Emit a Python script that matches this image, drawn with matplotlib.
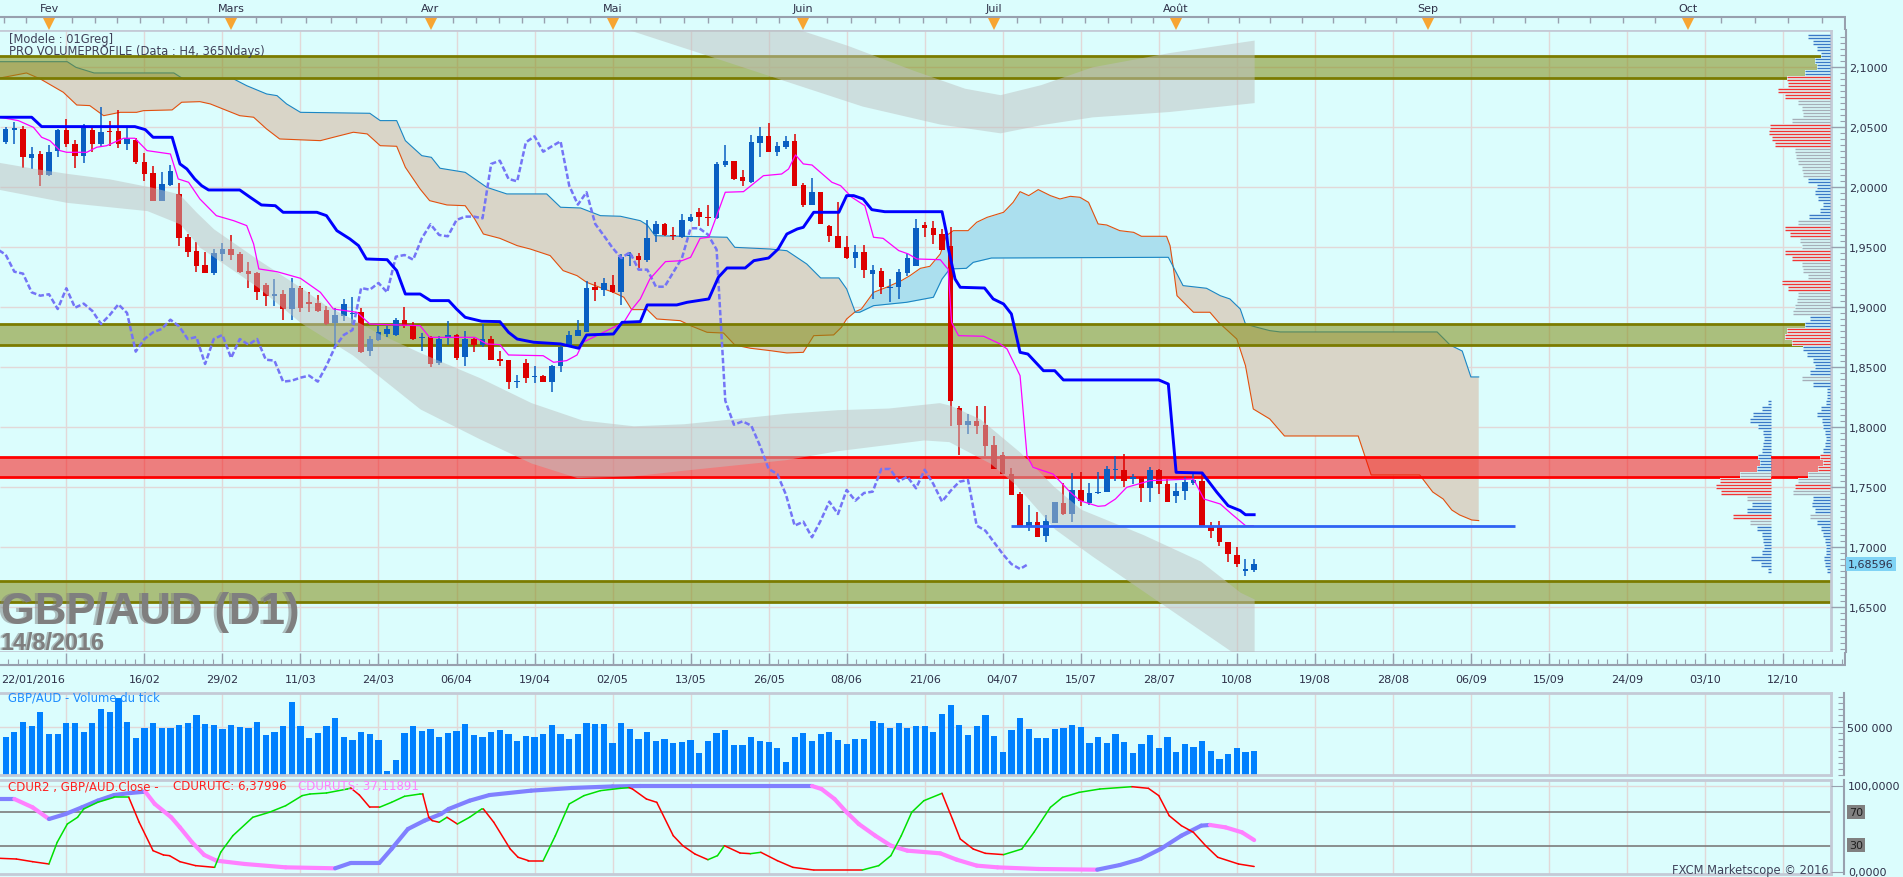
import numpy as np
import matplotlib
matplotlib.use('Agg')
import matplotlib.pyplot as plt
from matplotlib.collections import LineCollection
from matplotlib.patches import Rectangle
from matplotlib.ticker import FixedLocator, FuncFormatter, NullFormatter

W, H = 1903, 878
BG = '#dbfdfd'
GRID = '#e2d8d8'
BORDER = '#c4cad6'
AXC = '#98a0ae'
TXT = '#2e3048'
STEP = 8.67          # pixels per daily bar
UP, DOWN = '#0a5fc2', '#dd0000'

# ---------------- GBP/AUD daily candles, bar 0 = 22/01/2016 ... bar 145 = 12/08/2016
opens = [2.0311,2.0378,2.0478,2.0483,2.0244,2.0275,2.0100,2.0303,2.0475,2.0358,
         2.0261,2.0475,2.0358,2.0469,2.0469,2.0358,2.0394,2.0211,2.0117,1.9886,
         2.0017,1.9942,1.9581,1.9467,1.9350,1.9283,1.9442,1.9483,1.9442,1.9300,
         1.9283,1.9183,1.9094,1.9108,1.8983,1.9161,1.9044,1.9033,1.8975,1.8867,
         1.8922,1.8939,1.8956,1.8636,1.8728,1.8775,1.8769,1.8894,1.8844,1.8739,
         1.8747,1.8533,1.8739,1.8767,1.8581,1.8733,1.8686,1.8733,1.8567,1.8558,
         1.8378,1.8531,1.8417,1.8422,1.8378,1.8506,1.8678,1.8761,1.8794,1.9164,
         1.9144,1.9186,1.9128,1.9422,1.9422,1.9392,1.9608,1.9689,1.9603,1.9581,
         1.9719,1.9789,1.9753,1.9739,2.0186,2.0214,2.0081,2.0039,2.0367,2.0422,
         2.0294,2.0336,2.0381,2.0017,1.9853,1.9956,1.9678,1.9589,1.9497,1.9408,
         1.9456,1.9275,1.9297,1.9158,1.9164,1.9283,1.9344,1.9683,1.9656,1.9608,
         1.9511,1.8156,1.8019,1.8047,1.8017,1.7850,1.7767,1.7608,1.7442,1.7178,
         1.7211,1.7089,1.7197,1.7367,1.7275,1.7475,1.7364,1.7450,1.7456,1.7642,
         1.7642,1.7567,1.7581,1.7489,1.7644,1.7525,1.7422,1.7464,1.7531,1.7553,
         1.7164,1.7164,1.7039,1.6933,1.6797,1.6811]
highs = [2.0372,2.0503,2.0539,2.0511,2.0331,2.0303,2.0350,2.0483,2.0567,2.0392,
         2.0522,2.0489,2.0667,2.0553,2.0644,2.0497,2.0406,2.0283,2.0172,2.0122,
         2.0183,2.0033,1.9608,1.9539,1.9456,1.9483,1.9533,1.9603,1.9461,1.9378,
         1.9294,1.9200,1.9233,1.9144,1.9244,1.9178,1.9122,1.9100,1.9011,1.8989,
         1.9067,1.9083,1.8989,1.8761,1.8844,1.8844,1.8911,1.8997,1.8872,1.8783,
         1.8761,1.8761,1.8881,1.8775,1.8797,1.8744,1.8858,1.8756,1.8631,1.8561,
         1.8433,1.8567,1.8506,1.8433,1.8517,1.8678,1.8803,1.8894,1.9219,1.9206,
         1.9239,1.9267,1.9442,1.9456,1.9450,1.9725,1.9719,1.9700,1.9664,1.9775,
         1.9775,1.9822,1.9850,2.0206,2.0350,2.0219,2.0144,2.0433,2.0497,2.0533,
         2.0372,2.0428,2.0442,2.0033,2.0072,1.9961,1.9680,1.9872,1.9594,1.9517,
         1.9517,1.9350,1.9322,1.9233,1.9317,1.9442,1.9733,1.9711,1.9719,1.9650,
         1.9664,1.8178,1.8108,1.8178,1.8172,1.7922,1.7789,1.7656,1.7456,1.7350,
         1.7294,1.7267,1.7378,1.7533,1.7617,1.7622,1.7533,1.7622,1.7672,1.7756,
         1.7775,1.7608,1.7581,1.7664,1.7650,1.7567,1.7533,1.7581,1.7608,1.7608,
         1.7211,1.7219,1.7044,1.6997,1.6900,1.6900]
lows = [2.0303,2.0358,2.0358,2.0156,2.0150,2.0006,2.0094,2.0247,2.0331,2.0156,
        2.0197,2.0294,2.0344,2.0344,2.0325,2.0311,2.0192,2.0053,1.9880,1.9880,
        2.0011,1.9511,1.9414,1.9294,1.9280,1.9267,1.9386,1.9392,1.9283,1.9161,
        1.9061,1.9011,1.9011,1.8894,1.8894,1.8956,1.8956,1.8956,1.8850,1.8678,
        1.8886,1.8858,1.8617,1.8594,1.8719,1.8747,1.8761,1.8822,1.8728,1.8636,
        1.8497,1.8517,1.8686,1.8561,1.8511,1.8622,1.8669,1.8558,1.8506,1.8317,
        1.8322,1.8367,1.8367,1.8372,1.8294,1.8456,1.8675,1.8756,1.8792,1.9053,
        1.9094,1.9120,1.9019,1.9339,1.9322,1.9378,1.9539,1.9589,1.9561,1.9578,
        1.9711,1.9678,1.9678,1.9733,2.0164,2.0058,2.0011,2.0033,2.0253,2.0292,
        2.0261,2.0317,2.0008,1.9836,1.9850,1.9690,1.9544,1.9490,1.9400,1.9322,
        1.9242,1.9067,1.9108,1.9044,1.9067,1.9261,1.9339,1.9581,1.9525,1.9472,
        1.8011,1.7767,1.7942,1.7942,1.7761,1.7650,1.7608,1.7436,1.7172,1.7136,
        1.7081,1.7044,1.7197,1.7267,1.7206,1.7344,1.7350,1.7442,1.7456,1.7553,
        1.7497,1.7525,1.7372,1.7372,1.7442,1.7378,1.7367,1.7394,1.7517,1.7178,
        1.7072,1.7006,1.6878,1.6831,1.6756,1.6789]
closes = [2.0358,2.0483,2.0489,2.0253,2.0275,2.0100,2.0289,2.0478,2.0358,2.0261,
          2.0489,2.0358,2.0461,2.0456,2.0358,2.0406,2.0211,2.0108,1.9886,2.0025,
          2.0136,1.9575,1.9461,1.9344,1.9283,1.9450,1.9483,1.9436,1.9294,1.9278,
          1.9122,1.9094,1.9106,1.8983,1.9156,1.8994,1.9028,1.8967,1.8858,1.8933,
          1.9022,1.8950,1.8628,1.8733,1.8789,1.8817,1.8894,1.8839,1.8733,1.8750,
          1.8525,1.8733,1.8767,1.8575,1.8733,1.8686,1.8733,1.8561,1.8553,1.8378,
          1.8386,1.8411,1.8428,1.8378,1.8511,1.8669,1.8767,1.8808,1.9158,1.9144,
          1.9200,1.9122,1.9419,1.9433,1.9394,1.9572,1.9689,1.9600,1.9589,1.9725,
          1.9753,1.9753,1.9739,2.0192,2.0219,2.0067,2.0047,2.0372,2.0422,2.0294,
          2.0339,2.0381,2.0011,1.9853,1.9956,1.9692,1.9594,1.9492,1.9408,1.9456,
          1.9311,1.9311,1.9169,1.9169,1.9289,1.9408,1.9656,1.9656,1.9603,1.9478,
          1.8219,1.8019,1.8047,1.8011,1.7844,1.7650,1.7608,1.7436,1.7178,1.7211,
          1.7081,1.7219,1.7378,1.7275,1.7475,1.7386,1.7450,1.7461,1.7650,1.7650,
          1.7547,1.7586,1.7489,1.7644,1.7525,1.7378,1.7469,1.7544,1.7558,1.7178,
          1.7136,1.7039,1.6942,1.6858,1.6817,1.6860]
# tick volume, thousands
volume_k = [479,399,451,552,510,656,427,427,542,542,
            448,542,687,656,802,552,385,490,542,490,
            490,521,542,625,531,521,479,521,500,490,
            552,417,448,510,760,510,385,437,510,594,
            396,365,451,427,365,42,156,437,510,458,
            479,396,437,458,531,417,396,448,469,427,
            354,406,396,427,521,427,375,427,542,531,
            531,333,542,479,375,448,354,375,333,344,
            365,229,354,437,469,312,312,396,354,344,
            281,135,396,437,354,427,448,365,323,375,
            375,562,542,490,542,490,510,510,448,635,
            729,521,417,510,625,406,240,469,594,479,
            385,385,479,490,521,500,333,396,333,427,
            344,229,323,417,281,396,240,323,292,354,
            250,167,219,281,240,250]

# ---------------- Ichimoku lines (bar index, price)
kijun_x = [0.35,4.0,5.15,15.9,17.1,18.0,20.2,21.1,21.9,22.8,23.6,24.4,28.0,29.2,30.5,32.1,33.0,36.9,38.0,39.2,
           40.7,41.7,42.6,45.0,46.1,47.1,48.8,50.0,52.1,53.0,54.0,55.9,58.0,59.0,60.0,61.9,65.0,67.1,67.3,68.0,
           71.1,72.1,74.2,75.0,78.4,79.6,82.1,83.2,84.2,86.3,87.3,89.0,90.1,91.1,92.3,93.0,94.2,97.1,98.0,98.8,
           99.9,100.9,102.4,109.0,109.5,109.7,110.5,111.1,113.9,114.9,116.1,117.0,118.0,118.9,120.7,122.0,123.0,
           134.0,135.1,136.0,139.0,140.7,142.0,143.4,144.0,145.0]
kijun_y = [2.0581,2.0581,2.0503,2.0503,2.0478,2.0414,2.0414,2.0192,2.0150,2.0067,2.0011,1.9975,1.9975,1.9914,
           1.9850,1.9844,1.9789,1.9789,1.9761,1.9636,1.9567,1.9511,1.9400,1.9394,1.9303,1.9108,1.9108,1.9053,
           1.9053,1.8983,1.8914,1.8881,1.8878,1.8789,1.8733,1.8706,1.8692,1.8656,1.8678,1.8767,1.8775,1.8872,
           1.8878,1.9017,1.9017,1.9039,1.9067,1.9247,1.9325,1.9325,1.9386,1.9408,1.9483,1.9608,1.9650,1.9664,
           1.9789,1.9789,1.9928,1.9928,1.9900,1.9811,1.9794,1.9794,1.9622,1.9497,1.9233,1.9164,1.9158,1.9067,
           1.9025,1.8942,1.8622,1.8608,1.8469,1.8469,1.8392,1.8392,1.8358,1.7622,1.7617,1.7456,1.7344,1.7303,
           1.7269,1.7269]
tenkan_x = [0.35,2.46,4.2,5.15,6.1,7.27,8.04,10.35,11.5,12.65,14.6,15.9,17.3,20.0,20.9,22.1,23.4,25.3,27.3,28.8,
            29.6,30.2,32.3,35.0,37.3,38.8,41.5,43.0,48.8,49.9,55.1,56.5,58.0,59.0,63.0,64.2,65.7,66.9,67.6,72.3,
            73.2,74.2,75.3,77.1,79.0,80.0,81.1,82.1,84.0,86.1,88.4,90.5,91.3,92.1,93.0,94.0,96.3,97.3,98.6,100.1,
            101.1,102.2,104.0,105.1,106.1,108.8,109.5,109.7,110.1,110.9,113.8,115.7,116.5,118.0,118.8,119.5,121.8,
            123.8,124.9,127.0,127.8,129.0,130.3,133.0,138.0,139.2,141.1,142.4,144.0,144.9]
tenkan_y = [2.0581,2.0553,2.0497,2.0414,2.0386,2.0303,2.0289,2.0289,2.0331,2.0344,2.0406,2.0406,2.0303,2.0275,
            2.0067,2.0039,1.9900,1.9761,1.9719,1.9678,1.9525,1.9317,1.9294,1.9239,1.9122,1.8983,1.8956,1.8858,
            1.8844,1.8747,1.8747,1.8692,1.8686,1.8600,1.8594,1.8539,1.8553,1.8600,1.8706,1.8872,1.8978,1.9067,
            1.9233,1.9378,1.9386,1.9414,1.9572,1.9581,1.9956,1.9961,2.0094,2.0108,2.0150,2.0267,2.0192,2.0183,
            2.0039,2.0011,1.9914,1.9844,1.9581,1.9572,1.9470,1.9442,1.9400,1.9394,1.9331,1.9317,1.8872,1.8761,
            1.8756,1.8692,1.8650,1.8428,1.7761,1.7664,1.7608,1.7456,1.7386,1.7339,1.7344,1.7400,1.7497,1.7553,
            1.7567,1.7400,1.7358,1.7275,1.7178,1.7178]
span_b_x = [0.35,8.1,9.1,11.2,20.4,21.5,27.3,28.8,31.1,32.3,33.4,35.0,43.0,44.2,46.1,47.1,49.0,50.1,51.1,54.0,
            56.5,58.8,63.4,65.0,67.3,69.6,71.9,74.2,75.0,75.9,84.2,85.1,89.2,91.1,93.4,95.0,97.1,98.0,99.0,99.5,
            101.1,104.9,108.0,109.0,109.9,111.8,112.6,114.7,135.1,135.7,136.8,139.5,141.1,142.2,143.4,144.0,
            145.3,146.8,148.0,166.1,167.6,169.0,170.0,170.9]
span_b_y = [2.1044,2.1044,2.0997,2.0950,2.0950,2.0900,2.0900,2.0844,2.0775,2.0761,2.0692,2.0622,2.0614,2.0553,
            2.0553,2.0386,2.0261,2.0247,2.0156,2.0122,1.9997,1.9942,1.9942,1.9831,1.9825,1.9761,1.9756,1.9719,
            1.9683,1.9594,1.9581,1.9497,1.9483,1.9469,1.9358,1.9242,1.9242,1.9150,1.8956,1.8956,1.9011,1.9039,
            1.9081,1.9233,1.9317,1.9322,1.9372,1.9408,1.9414,1.9331,1.9178,1.9156,1.9094,1.9067,1.8983,1.8858,
            1.8831,1.8803,1.8792,1.8792,1.8683,1.8633,1.8417,1.8417]
span_a_x = [0.35,3.4,5.0,7.65,9.2,10.7,12.3,14.2,16.1,16.9,20.2,21.3,23.4,24.6,28.0,29.6,31.1,32.6,37.3,38.8,
            41.1,42.7,44.2,46.1,47.1,48.8,49.9,51.9,54.0,55.1,56.1,58.0,60.0,61.5,63.8,64.4,65.3,66.9,68.0,70.0,
            71.1,72.3,73.2,75.0,76.1,78.8,80.0,81.9,83.8,85.1,86.9,89.2,91.1,93.0,94.2,96.5,97.4,98.0,99.0,99.7,
            101.1,102.6,104.3,105.3,106.5,107.6,108.8,109.5,110.3,112.0,113.0,114.2,116.1,117.2,118.0,119.0,
            120.1,121.5,122.6,123.8,124.9,125.9,127.0,128.0,129.5,131.1,132.0,134.9,135.3,135.7,136.1,138.0,
            139.9,140.9,143.0,144.0,144.9,146.8,148.5,157.0,158.5,164.1,165.6,166.8,167.8,168.7,170.1,170.9]
span_a_y = [2.0908,2.0950,2.0900,2.0789,2.0683,2.0678,2.0594,2.0622,2.0622,2.0636,2.0642,2.0706,2.0711,2.0692,
            2.0594,2.0581,2.0483,2.0400,2.0386,2.0414,2.0456,2.0442,2.0344,2.0339,2.0164,1.9983,1.9886,1.9850,
            1.9844,1.9733,1.9608,1.9572,1.9511,1.9483,1.9428,1.9378,1.9303,1.9261,1.9206,1.9150,1.9122,1.9081,
            1.8978,1.8978,1.8900,1.8886,1.8844,1.8789,1.8783,1.8683,1.8656,1.8636,1.8617,1.8622,1.8761,1.8767,
            1.8831,1.8900,1.8961,1.8983,1.9122,1.9164,1.9219,1.9261,1.9322,1.9339,1.9442,1.9594,1.9636,1.9636,
            1.9706,1.9747,1.9789,1.9872,1.9961,1.9928,1.9978,1.9928,1.9900,1.9922,1.9914,1.9872,1.9692,1.9683,
            1.9636,1.9622,1.9589,1.9589,1.9511,1.9317,1.9094,1.8956,1.8956,1.8872,1.8733,1.8511,1.8150,1.8067,
            1.7925,1.7925,1.7600,1.7600,1.7458,1.7400,1.7308,1.7267,1.7225,1.7220]

# ---------------- regression channel bands (grey)
low_top_x = [0,4.7,8,13,17.9,21,23,25,30,35,38,41,44,48.8,55.7,61.6,67.5,73.4,79.2,85.1,91,96.9,102.8,108.7,
             110,113.4,118,121.8,125,132.2,138.8,143.4,145]
low_top_y = [2.0208,2.0150,2.0114,2.0067,1.9997,1.9942,1.9789,1.9650,1.9400,1.9164,1.9011,1.8900,1.8780,1.8620,
             1.8410,1.8203,1.8058,1.8010,1.8027,1.8070,1.8114,1.8144,1.8158,1.8203,1.8180,1.8067,1.7789,1.7511,
             1.7315,1.7103,1.6883,1.6622,1.6567]
low_bot_x = [0,8,17.3,21.1,23.4,30.1,35,41,48.8,55.7,61.6,66.9,73.4,79.2,91,96.9,106.9,109.8,114.5,117.5,122,
             126.3,145]
low_bot_y = [1.9983,1.9872,1.9803,1.9692,1.9497,1.9164,1.8870,1.8600,1.8150,1.7900,1.7700,1.7578,1.7593,1.7640,
             1.7728,1.7802,1.7892,1.7878,1.7700,1.7519,1.7150,1.6925,1.6000]
up_top_x = [60,73.1,92.8,98.1,105.7,111.6,115.7,120.4,126.3,135.2,145]
up_top_y = [2.2000,2.1700,2.1305,2.1180,2.0972,2.0823,2.0769,2.0853,2.1001,2.1120,2.1224]
up_bot_x = [60,73.1,82.2,91.0,99.8,108.7,115.7,120.4,126.3,135.2,145]
up_bot_y = [2.1650,2.1305,2.1091,2.0882,2.0674,2.0525,2.0451,2.0519,2.0584,2.0629,2.0703]

# ---------------- horizontal zones
green_zones = [(2.0908, 2.1092), (1.8683, 1.8858), (1.6542, 1.6717)]
red_zone = (1.7583, 1.7750)
support_level = 1.7171

# ---------------- volume profile (row length in px), rows every 0.005
vp_main_len = [22,17,13,9,15,13,25, 43,42,52,45, 32,28,27,38, 60,61,58,55, 35,34,32,28,27,
               22,13,15,12,7,10,21, 32,45,40,30,28,45,38,28,27,22,48,42, 32,33,35,37, 20,25,
               43,45,38, 27,23,17,15,20, 28,17, 3,3,4,9,13,8,7,5,4,5,7, 10,7,12, 22,32,35,37,
               17,18,15,20, 13,9,7,5,4, 4,6,5,3]
vp_main_col = ("bbbbbbb" "rrrr" "gggg" "rrrr" "ggggg" "bbbbbbb" "grrggrrgggrr" "gggg" "bb" "rrr"
               "bbbbb" "gb" "bbbbbbbbbbb" "rrr" "ggrg" "bbbg" "bbbbb" "bbbb")
vp_sec_len = [3,9,18,21,13,8,7,8,9,13,11,14,31,51,55,50,24,19,24,38,21,14,9,8,7,9,20,10,3]
vp_sec_col = "bbbbbbbbbbbb" "g" "rrr" "g" "bb" "r" "g" "bbbbbbbb"

# ---------------- CDUR2 oscillator
uts_x = [0.35,2.0,4.1,6.0,7.9,9.8,11.6,13.5,15.4,17.1,18.2,20.1,21.1,22.5,23.9,25.3,28.6,33.3,39.0,40.8,44.1,
         45.5,47.4,49.3,51.2,52.1,54.5,56.8,61.6,66.3,71.0,74.2,94.0,95.1,96.6,98.0,99.4,101.3,103.1,105.0,
         108.8,110.7,113.0,115.4,120.1,126.9,129.5,131.9,134.2,136.6,138.9,139.9,141.7,143.6,145.0]
uts_y = [84.9,84.9,75.2,61.6,67.4,75.2,82.9,89.5,91.9,93.4,79.1,63.6,51.9,34.5,19.8,13.2,9.3,5.4,4.3,10.5,10.5,
         26.7,50.0,59.7,67.4,73.3,82.9,89.5,94.6,97.7,99.5,100.0,100.0,96.5,84.9,69.4,55.8,42.2,30.6,24.8,
         21.7,14.3,7.4,5.4,3.5,2.7,8.1,15.1,26.7,42.2,53.9,54.7,51.9,46.1,37.1]
utc_x = [0.35,2.23,4.11,5.99,6.94,8.11,9.29,10.0,11.6,13.5,15.2,16.4,18.0,19.2,19.9,21.1,22.9,25.1,25.8,27.2,
         29.5,31.4,33.3,35.2,36.1,38.0,40.4,40.8,41.8,43.0,44.1,45.5,47.0,48.8,49.1,49.8,50.2,51.0,51.9,53.1,
         54.5,55.9,56.1,57.3,59.2,60.1,61.3,63.0,64.4,66.0,67.7,69.6,71.9,72.9,73.3,74.9,76.1,78.0,79.1,80.5,
         82.0,83.1,83.9,85.7,86.9,88.1,90.0,91.8,94.2,99.8,101.7,103.1,104.3,105.5,106.9,109.0,110.2,111.1,
         112.6,114.0,116.1,118.2,119.6,121.5,122.9,124.8,127.2,130.9,132.8,134.0,135.2,136.6,138.0,139.4,
         140.8,143.2,145.0]
utc_y = [15.9,15.1,12.0,9.3,34.5,55.8,63.6,73.3,81.0,86.8,86.8,57.8,24.8,19.8,19.0,12.0,7.4,5.4,22.9,42.2,
         63.6,69.4,77.1,88.8,90.7,91.9,96.5,97.7,89.5,75.2,75.2,81.0,88.0,90.7,90.7,63.6,59.7,57.8,63.6,55.8,
         63.6,73.3,73.3,57.8,26.7,17.1,13.2,13.2,42.2,79.1,88.8,94.6,97.3,98.1,96.5,84.9,81.0,42.2,30.6,20.9,
         14.3,19.0,30.6,22.1,21.3,22.9,13.2,5.4,2.3,2.3,7.4,19.0,42.2,69.4,82.9,91.5,61.6,38.4,
         26.7,21.7,20.2,26.7,46.1,75.2,86.8,92.6,96.5,99.2,97.3,88.8,65.5,53.9,46.1,30.6,
         17.1,9.3,6.4]

# ---------------- axis labels
month_names = ['Fev', 'Mars', 'Avr', 'Mai', 'Juin', 'Juil', 'Août', 'Sep', 'Oct']
month_bars = [6, 27, 50, 71, 93, 115, 136, 165, 195]
date_labels = ['16/02', '29/02', '11/03', '24/03', '06/04', '19/04', '02/05', '13/05', '26/05', '08/06',
               '21/06', '04/07', '15/07', '28/07', '10/08', '19/08', '28/08', '06/09', '15/09', '24/09',
               '03/10', '12/10']
date_bars = list(range(17, 207, 9))


def px2i(p):
    return (p + 3) / STEP


fig = plt.figure(figsize=(W / 100, H / 100), dpi=100, facecolor=BG)


def px_axes(x0, y0, x1, y1):
    a = fig.add_axes([x0 / W, 1 - y1 / H, (x1 - x0) / W, (y1 - y0) / H])
    a.set_facecolor(BG)
    a.set_xticks([])
    a.set_yticks([])
    for s in a.spines.values():
        s.set_visible(False)
    return a


def ftext(x, y, s, **kw):
    return fig.text(x / W, 1 - y / H, s, **kw)


def frame(a, sides=('top', 'bottom', 'right')):
    for s in sides:
        a.spines[s].set_visible(True)
        a.spines[s].set_color(BORDER)
        a.spines[s].set_linewidth(2)


def colored_line(a, xs, ys, up_c, dn_c, lw, z):
    xs = np.asarray(xs, float)
    ys = np.asarray(ys, float)
    pts = np.column_stack([xs, ys])
    segs = np.stack([pts[:-1], pts[1:]], axis=1)
    cols, last = [], up_c
    for d in np.diff(ys):
        if d > 0:
            last = up_c
        elif d < 0:
            last = dn_c
        cols.append(last)
    a.add_collection(LineCollection(segs, colors=cols, linewidths=lw, zorder=z, capstyle='round'))


grid_bars = np.arange(8, 213, 9)
XL, XR = px2i(0), px2i(1831)

# ================= main price panel
ax = px_axes(0, 31, 1831, 653)
ax.set_xlim(XL, XR)
ax.set_ylim(1.6125, 2.1308)
frame(ax)
ax.vlines(grid_bars, 1.6, 2.2, color=GRID, lw=1, zorder=0.5)
ax.hlines(np.arange(1.65, 2.101, 0.05), XL, XR, color=GRID, lw=1, zorder=0.5)

# cloud
xs = np.linspace(span_a_x[0], span_a_x[-1], 4000)
sa = np.interp(xs, span_a_x, span_a_y)
sb = np.interp(xs, span_b_x, span_b_y)
ax.fill_between(xs, sa, sb, where=sa >= sb, interpolate=True, color='#abdfee', lw=0, zorder=1)
ax.fill_between(xs, sa, sb, where=sa < sb, interpolate=True, color='#d9d5c8', lw=0, zorder=1)
ax.plot(span_a_x, span_a_y, color='#e2500e', lw=0.8, zorder=1.5)
ax.plot(span_b_x, span_b_y, color='#1a86c4', lw=0.8, zorder=1.5)

# zones
for lo, hi in green_zones:
    ax.axhspan(lo, hi, color=(0.51, 0.55, 0.08), alpha=0.55, lw=0, zorder=2)
    ax.axhline(lo, color='#7b7b00', lw=2, zorder=2.1)
    ax.axhline(hi, color='#7b7b00', lw=2, zorder=2.1)
ax.axhspan(red_zone[0], red_zone[1], color='#ff0000', alpha=0.5, lw=0, zorder=2)
ax.axhline(red_zone[0], color='#ff0000', lw=2, zorder=2.1)
ax.axhline(red_zone[1], color='#ff0000', lw=2, zorder=2.1)

# candles
o, h, l, c = (np.array(v) for v in (opens, highs, lows, closes))
idx = np.arange(len(o))
col = np.where(c >= o, UP, DOWN)
ax.vlines(idx, l, h, colors=col, lw=1.1, zorder=3)
ax.bar(idx, np.maximum(np.abs(c - o), 0.0009), width=0.64, bottom=np.minimum(o, c),
       color=col, lw=0, zorder=3.1)

# grey channel bands
xl = np.linspace(0, 145, 1500)
ax.fill_between(xl, np.interp(xl, low_top_x, low_top_y), np.interp(xl, low_bot_x, low_bot_y),
                color='#bec0c0', alpha=0.5, lw=0, zorder=3.5)
xu = np.linspace(60, 145, 900)
ax.fill_between(xu, np.interp(xu, up_top_x, up_top_y), np.interp(xu, up_bot_x, up_bot_y),
                color='#bec0c0', alpha=0.5, lw=0, zorder=3.5)

# ichimoku lines
ax.plot(idx[:-26], c[26:], color='#7474f6', lw=1.8, ls=(0, (2.2, 1)), zorder=4)
ax.plot(tenkan_x, tenkan_y, color='#ff00ff', lw=0.9, zorder=4.1)
ax.plot(kijun_x, kijun_y, color='#0000ff', lw=2.1, zorder=4.2)
ax.hlines(support_level, px2i(1011), px2i(1515), color='#2f63f3', lw=2, zorder=4.5)

# volume profile
PCOL = {'b': '#3a78c6', 'r': '#f23434', 'g': '#a6aeb8'}


def draw_profile(top_price, lengths, colors, right_px):
    right = px2i(right_px)
    for k, (L, cc) in enumerate(zip(lengths, colors)):
        p = top_price - 0.005 * k
        left = right - L / STEP
        ax.add_patch(Rectangle((left, p - 0.0025), right - left, 0.005, color=BG, lw=0, zorder=6))
        ax.hlines([p - 0.00125, p + 0.00125], left, right, color=PCOL[cc], lw=1.0, zorder=6.1)


draw_profile(2.125, vp_main_len, vp_main_col, 1830)
draw_profile(1.820, vp_sec_len, vp_sec_col, 1771)

ftext(9, 39, '[Modele : 01Greg]', fontsize=8.3, color='#40425a', va='center', zorder=10)
ftext(9, 52, 'PRO VOLUMEPROFILE (Data : H4, 365Ndays)', fontsize=8.3, color='#40425a', va='center', zorder=10)

for dx, a_ in ((-3, 0.5), (0, 1.0)):
    ftext(1 + dx, 624, 'GBP/AUD (D1)', fontsize=31.5, fontweight='bold', family='Liberation Sans',
          color='#7f7f7f', alpha=a_, va='baseline', zorder=10)
    ftext(1 + dx, 650, '14/8/2016', fontsize=16.8, fontweight='bold', family='Liberation Sans',
          color='#7f7f7f', alpha=a_, va='baseline', zorder=10)

# price scale
sy = px_axes(1831, 31, 1846, 653)
sy.set_ylim(ax.get_ylim())
sy.patch.set_alpha(0)
sy.spines['right'].set_visible(True)
sy.spines['right'].set_color(AXC)
sy.spines['right'].set_linewidth(1.5)
sy.yaxis.tick_right()
sy.yaxis.set_major_locator(FixedLocator(np.arange(1.65, 2.101, 0.05)))
sy.yaxis.set_minor_locator(FixedLocator(np.arange(1.615, 2.13, 0.005)))
sy.yaxis.set_major_formatter(FuncFormatter(lambda v, p: f'{v:.4f}'.replace('.', ',')))
sy.yaxis.set_minor_formatter(NullFormatter())
sy.tick_params(axis='y', which='major', direction='in', length=10.8, width=1, color=AXC,
               labelsize=8, labelcolor=TXT, pad=2)
sy.tick_params(axis='y', which='minor', direction='in', length=4.3, width=0.8, color=AXC)
ftext(1848, 565, '1,68596', fontsize=8, color=TXT, va='center',
      bbox=dict(fc='#7fd3f5', ec='none', pad=1.6))

# month strip
mx = px_axes(0, 0, 1846, 31)
mx.set_xlim(px2i(0), px2i(1846))
mx.set_ylim(31, 0)
mx.hlines(18, px2i(0), px2i(1846), color=AXC, lw=1.5)
mx.vlines(px2i(1845), 18, 31, color=AXC, lw=1.5)
bounds = [-15] + month_bars + [226]
sub = np.concatenate([np.linspace(a_, b_, 9)[:-1] for a_, b_ in zip(bounds[:-1], bounds[1:])])
mx.vlines(sub, 18, 24, color=AXC, lw=1)
mx.plot(month_bars, [24.5] * len(month_bars), 'v', color='#f7a531', ms=8, mew=0)
for name, b in zip(month_names, month_bars):
    mx.text(b, 9, name, ha='center', va='center', fontsize=8, color=TXT)

# date strip
ds = px_axes(0, 653, 1846, 666)
ds.set_xlim(px2i(0), px2i(1846))
ds.set_ylim(666, 653)
ds.hlines(665.5, px2i(0), px2i(1846), color=AXC, lw=1.5, clip_on=False)
ds.vlines(px2i(1845), 653, 666, color=AXC, lw=1.5)
ds.vlines(grid_bars, 654, 666, color=AXC, lw=1)
ds.vlines(np.arange(-1, 213, 9 / 8), 660, 666, color=AXC, lw=0.8)
ds.text(px2i(1), 680, '22/01/2016', ha='left', va='center', fontsize=8, color=TXT, clip_on=False)
for lab, b in zip(date_labels, date_bars):
    ds.text(b, 680, lab, ha='center', va='center', fontsize=8, color=TXT, clip_on=False)

# ================= volume panel
vx = px_axes(0, 694, 1831, 776)
vx.set_xlim(XL, XR)
vx.set_ylim(0, 854000)
frame(vx, ('top', 'bottom', 'right'))
vx.vlines(grid_bars, 0, 900000, color=GRID, lw=1, zorder=0.5)
vx.axhline(500000, color=GRID, lw=1, zorder=0.5)
vx.bar(idx, np.array(volume_k) * 1000, width=0.72, color='#0080ff', lw=0, zorder=2)
vx.text(px2i(8), 815000, 'GBP/AUD - Volume du tick', fontsize=8.4, color='#1e8cff', va='center', zorder=5)

vs = px_axes(1831, 694, 1844, 776)
vs.set_ylim(0, 854000)
vs.patch.set_alpha(0)
vs.spines['right'].set_visible(True)
vs.spines['right'].set_color(AXC)
vs.spines['right'].set_linewidth(1.5)
vs.yaxis.tick_right()
vs.yaxis.set_major_locator(FixedLocator([500000]))
vs.yaxis.set_minor_locator(FixedLocator(np.arange(0, 854000, 62500)))
vs.yaxis.set_major_formatter(FuncFormatter(lambda v, p: '500 000'))
vs.yaxis.set_minor_formatter(NullFormatter())
vs.tick_params(axis='y', which='major', direction='in', length=9.5, color=AXC, labelsize=8,
               labelcolor=TXT, pad=2)
vs.tick_params(axis='y', which='minor', direction='in', length=4, width=0.8, color=AXC)

# ================= CDUR2 panel
ix = px_axes(0, 781, 1831, 875)
ix.set_xlim(XL, XR)
ix.set_ylim(-2.33, 106.98)
frame(ix, ('top', 'bottom', 'right'))
ix.vlines(grid_bars, -5, 110, color=GRID, lw=1, zorder=0.5)
ix.axhline(100, color=GRID, lw=1, zorder=0.5)
ix.axhline(70, color='#7c7c7c', lw=1.2, zorder=0.8)
ix.axhline(30, color='#7c7c7c', lw=1.2, zorder=0.8)
colored_line(ix, uts_x, uts_y, '#8080ff', '#ff80ff', 3.0, 2)
colored_line(ix, utc_x, utc_y, '#00e000', '#ff0000', 1.1, 3)
ix.text(px2i(8), 100.5, 'CDUR2 , GBP/AUD.Close -', fontsize=8.5, color='#ff2020', va='center', zorder=5)
ix.text(px2i(173), 100.5, 'CDURUTC: 6,37996', fontsize=8.5, color='#ff2020', va='center', zorder=5)
ix.text(px2i(298), 100.5, 'CDURUTS: 37,11891', fontsize=8.5, color='#ff80ff', va='center', zorder=5)
ix.text(px2i(1829), 3, 'FXCM Marketscope \u00a9 2016', fontsize=8.3, color='#40425a', ha='right',
        va='center', zorder=5)

isx = px_axes(1831, 781, 1844, 875)
isx.set_ylim(-2.33, 106.98)
isx.patch.set_alpha(0)
isx.spines['right'].set_visible(True)
isx.spines['right'].set_color(AXC)
isx.spines['right'].set_linewidth(1.5)
isx.yaxis.tick_right()
isx.yaxis.set_major_locator(FixedLocator([0, 100]))
isx.yaxis.set_major_formatter(NullFormatter())
isx.tick_params(axis='y', which='major', direction='in', length=9.5, color=AXC)
ftext(1848, 787, '100,0000', fontsize=8, color=TXT, va='center')
ftext(1848, 873, '0,0000', fontsize=8, color=TXT, va='center')
ftext(1849, 813, '70', fontsize=8, color='#1e1e1e', va='center', bbox=dict(fc='#808080', ec='none', pad=1.2))
ftext(1849, 846, '30', fontsize=8, color='#1e1e1e', va='center', bbox=dict(fc='#808080', ec='none', pad=1.2))

fig.savefig('out.png', dpi=100, facecolor=BG)
